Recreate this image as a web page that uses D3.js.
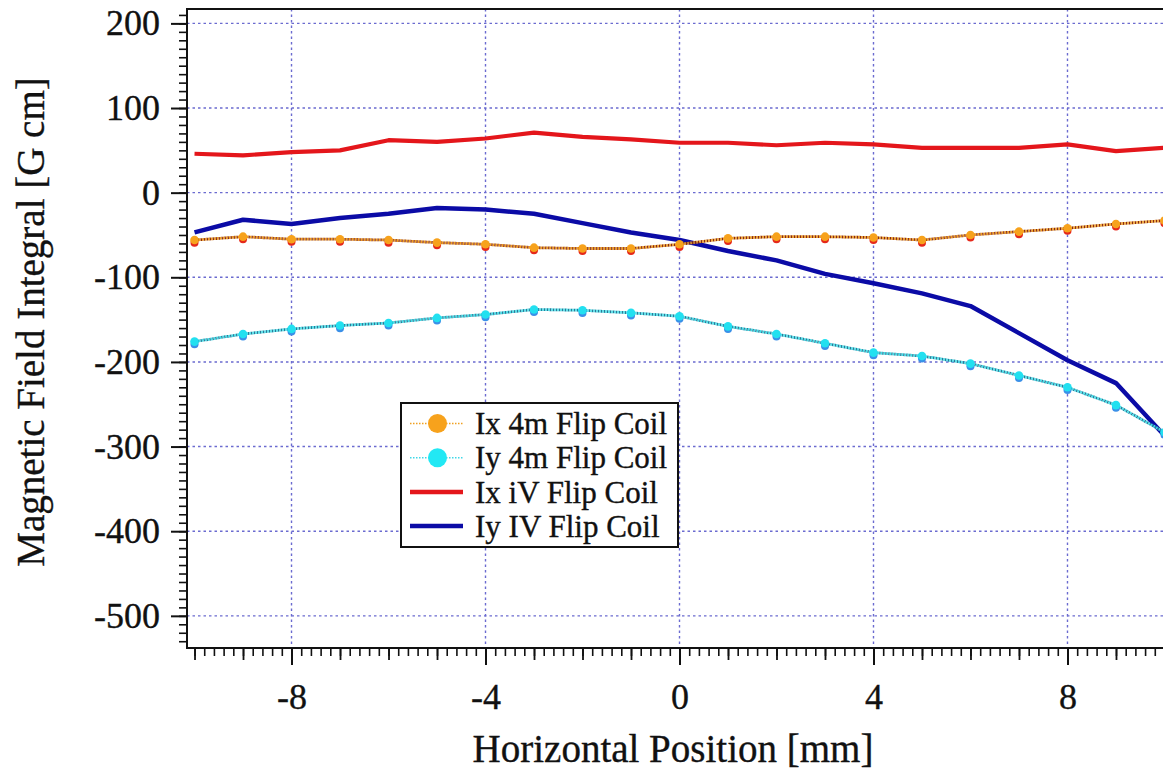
<!DOCTYPE html>
<html>
<head>
<meta charset="utf-8">
<script src="https://cdn.jsdelivr.net/npm/d3@7/dist/d3.min.js"></script>
<style>
  body { margin: 0; background: #fff; }
  text { font-family: "Liberation Serif", "Times New Roman", serif; fill: #111; stroke: #111; stroke-width: 0.35px; }
</style>
</head>
<body>
<div id="viz"></div>
<script>
// horizontal positions [mm]
const positions = [-10, -9, -8, -7, -6, -5, -4, -3, -2, -1, 0, 1, 2, 3, 4, 5, 6, 7, 8, 9, 10];

// field integrals [G cm]
const ix4m = [-56, -52, -55, -55, -56, -59, -61, -65, -66, -66, -61, -54, -52, -52, -53, -56, -50, -46, -42, -37, -33];
const iy4m = [-176, -167, -161, -157, -154, -148, -144, -138, -139, -142, -146, -158, -167, -178, -189, -193, -202, -216, -230, -251, -283];
const ixIV = [46, 44, 48, 50, 62, 60, 64, 71, 66, 63, 59, 59, 56, 59, 57, 53, 53, 53, 57, 49, 53];
const iyIV = [-47, -32, -37, -30, -25, -18, -20, -25, -36, -47, -56, -69, -80, -96, -107, -119, -134, -166, -198, -225, -287];

const xMajor = [-8, -4, 0, 4, 8];
const yMajor = [200, 100, 0, -100, -200, -300, -400, -500];

const legendLabels = ["Ix 4m Flip Coil", "Iy 4m Flip Coil", "Ix iV Flip Coil", "Iy IV Flip Coil"];

const W = 1163, H = 770;
const pLeft = 187, pTop = 9, pBottom = 648, pRight = 1172;

const svg = d3.select("#viz").append("svg")
  .attr("width", W)
  .attr("height", H);

const x = d3.scaleLinear().domain([-10.155, 10.155]).range([pLeft, pRight]);
const y = d3.scaleLinear().domain([-538, 217]).range([pBottom, pTop]);

// dotted grid
const grid = svg.append("g")
  .attr("stroke", "#6b6bd0")
  .attr("stroke-width", 1.4)
  .attr("stroke-dasharray", "2.5,3");
grid.selectAll("line.gx").data(xMajor).enter().append("line")
  .attr("class", "gx")
  .attr("x1", d => x(d)).attr("x2", d => x(d))
  .attr("y1", pTop).attr("y2", pBottom);
grid.selectAll("line.gy").data(yMajor).enter().append("line")
  .attr("class", "gy")
  .attr("x1", pLeft).attr("x2", pRight)
  .attr("y1", d => y(d)).attr("y2", d => y(d));

// axes: minor, medium and major ticks drawn as separate axes
function tickStyle(g, w) {
  g.select(".domain").remove();
  g.selectAll(".tick line").attr("stroke", "#111").attr("stroke-width", w);
}

const yMinor = d3.range(-530, 211, 10);
svg.append("g")
  .attr("transform", `translate(${pLeft},0)`)
  .call(d3.axisLeft(y).tickValues(yMinor).tickSize(8).tickFormat(""))
  .call(g => tickStyle(g, 1.6));
svg.append("g")
  .attr("transform", `translate(${pLeft},0)`)
  .call(d3.axisLeft(y).tickValues(yMajor).tickSize(16).tickPadding(11).tickFormat(d => String(d)))
  .call(g => tickStyle(g, 2))
  .selectAll("text")
  .style("font-size", "36px");

const xMinor = d3.range(-50, 51).map(d => d / 5);
svg.append("g")
  .attr("transform", `translate(0,${pBottom})`)
  .call(d3.axisBottom(x).tickValues(xMinor).tickSize(8).tickFormat(""))
  .call(g => tickStyle(g, 1.6));
svg.append("g")
  .attr("transform", `translate(0,${pBottom})`)
  .call(d3.axisBottom(x).tickValues(positions).tickSize(12).tickFormat(""))
  .call(g => tickStyle(g, 1.8));
svg.append("g")
  .attr("transform", `translate(0,${pBottom})`)
  .call(d3.axisBottom(x).tickValues(xMajor).tickSize(17).tickPadding(18).tickFormat(d => String(d)))
  .call(g => tickStyle(g, 2))
  .selectAll("text")
  .style("font-size", "36px");

// frame
svg.append("path")
  .attr("d", `M${pRight},${pTop}H${pLeft}V${pBottom}H${pRight}`)
  .attr("fill", "none")
  .attr("stroke", "#111")
  .attr("stroke-width", 2);

// series
const rows = positions.map((p, i) => ({ p, ix4m: ix4m[i], iy4m: iy4m[i], ixIV: ixIV[i], iyIV: iyIV[i] }));
const plot = svg.append("g");

function lineOf(key) {
  return d3.line().x(d => x(d.p)).y(d => y(d[key]));
}

// solid IV coil curves
plot.append("path").datum(rows)
  .attr("d", lineOf("ixIV"))
  .attr("fill", "none").attr("stroke", "#e4161b").attr("stroke-width", 4.2)
  .attr("stroke-linejoin", "round");
plot.append("path").datum(rows)
  .attr("d", lineOf("iyIV"))
  .attr("fill", "none").attr("stroke", "#0b0ba6").attr("stroke-width", 4.5)
  .attr("stroke-linejoin", "round");

// dotted 4m coil curves with two-tone markers
function dottedSeries(key, dark, light, shade, fill) {
  plot.append("path").datum(rows)
    .attr("d", lineOf(key))
    .attr("fill", "none").attr("stroke", dark).attr("stroke-width", 2.8)
    .attr("stroke-dasharray", "1.5,1.5");
  plot.append("path").datum(rows)
    .attr("d", lineOf(key))
    .attr("fill", "none").attr("stroke", light).attr("stroke-width", 2.8)
    .attr("stroke-dasharray", "1.5,1.5").attr("stroke-dashoffset", 1.5);
  plot.selectAll("circle.s" + key).data(rows).enter().append("circle")
    .attr("class", "s" + key)
    .attr("cx", d => x(d.p)).attr("cy", d => y(d[key]) + 2.6)
    .attr("r", 4).attr("fill", shade);
  plot.selectAll("circle.m" + key).data(rows).enter().append("circle")
    .attr("class", "m" + key)
    .attr("cx", d => x(d.p)).attr("cy", d => y(d[key]))
    .attr("r", 4.3).attr("fill", fill);
}
dottedSeries("ix4m", "#8a2a12", "#f0a020", "#e5281a", "#f7a21c");
dottedSeries("iy4m", "#2a7a9a", "#40e0e8", "#3a90e8", "#22e0f0");

// legend
const lg = svg.append("g").attr("transform", "translate(401,403)");
lg.append("rect")
  .attr("width", 277).attr("height", 144)
  .attr("fill", "#fff").attr("stroke", "#111").attr("stroke-width", 2);

const legendItems = [
  { label: legendLabels[0], color: "#f0a020", dotted: true, marker: "#f7a21c" },
  { label: legendLabels[1], color: "#40d8e8", dotted: true, marker: "#22e8f4" },
  { label: legendLabels[2], color: "#e4161b", dotted: false },
  { label: legendLabels[3], color: "#0b0ba6", dotted: false }
];
const item = lg.selectAll("g.item").data(legendItems).enter().append("g")
  .attr("class", "item")
  .attr("transform", (d, i) => `translate(0,${20.5 + i * 34.2})`);
item.append("line")
  .attr("x1", 9).attr("x2", 62)
  .attr("stroke", d => d.color)
  .attr("stroke-width", d => d.dotted ? 1.5 : 4.5)
  .attr("stroke-dasharray", d => d.dotted ? "1.5,1.5" : null);
item.filter(d => d.dotted).append("circle")
  .attr("cx", 36.5).attr("r", 9.5)
  .attr("fill", d => d.marker);
item.append("text")
  .attr("x", 74).attr("y", 10.7)
  .style("font-size", "31px")
  .text(d => d.label);

// axis titles
svg.append("text")
  .attr("x", 673).attr("y", 762)
  .attr("text-anchor", "middle")
  .style("font-size", "39px")
  .text("Horizontal Position [mm]");
svg.append("text")
  .attr("transform", "translate(44,322) rotate(-90)")
  .attr("text-anchor", "middle")
  .style("font-size", "39px")
  .text("Magnetic Field Integral [G cm]");
</script>
</body>
</html>
